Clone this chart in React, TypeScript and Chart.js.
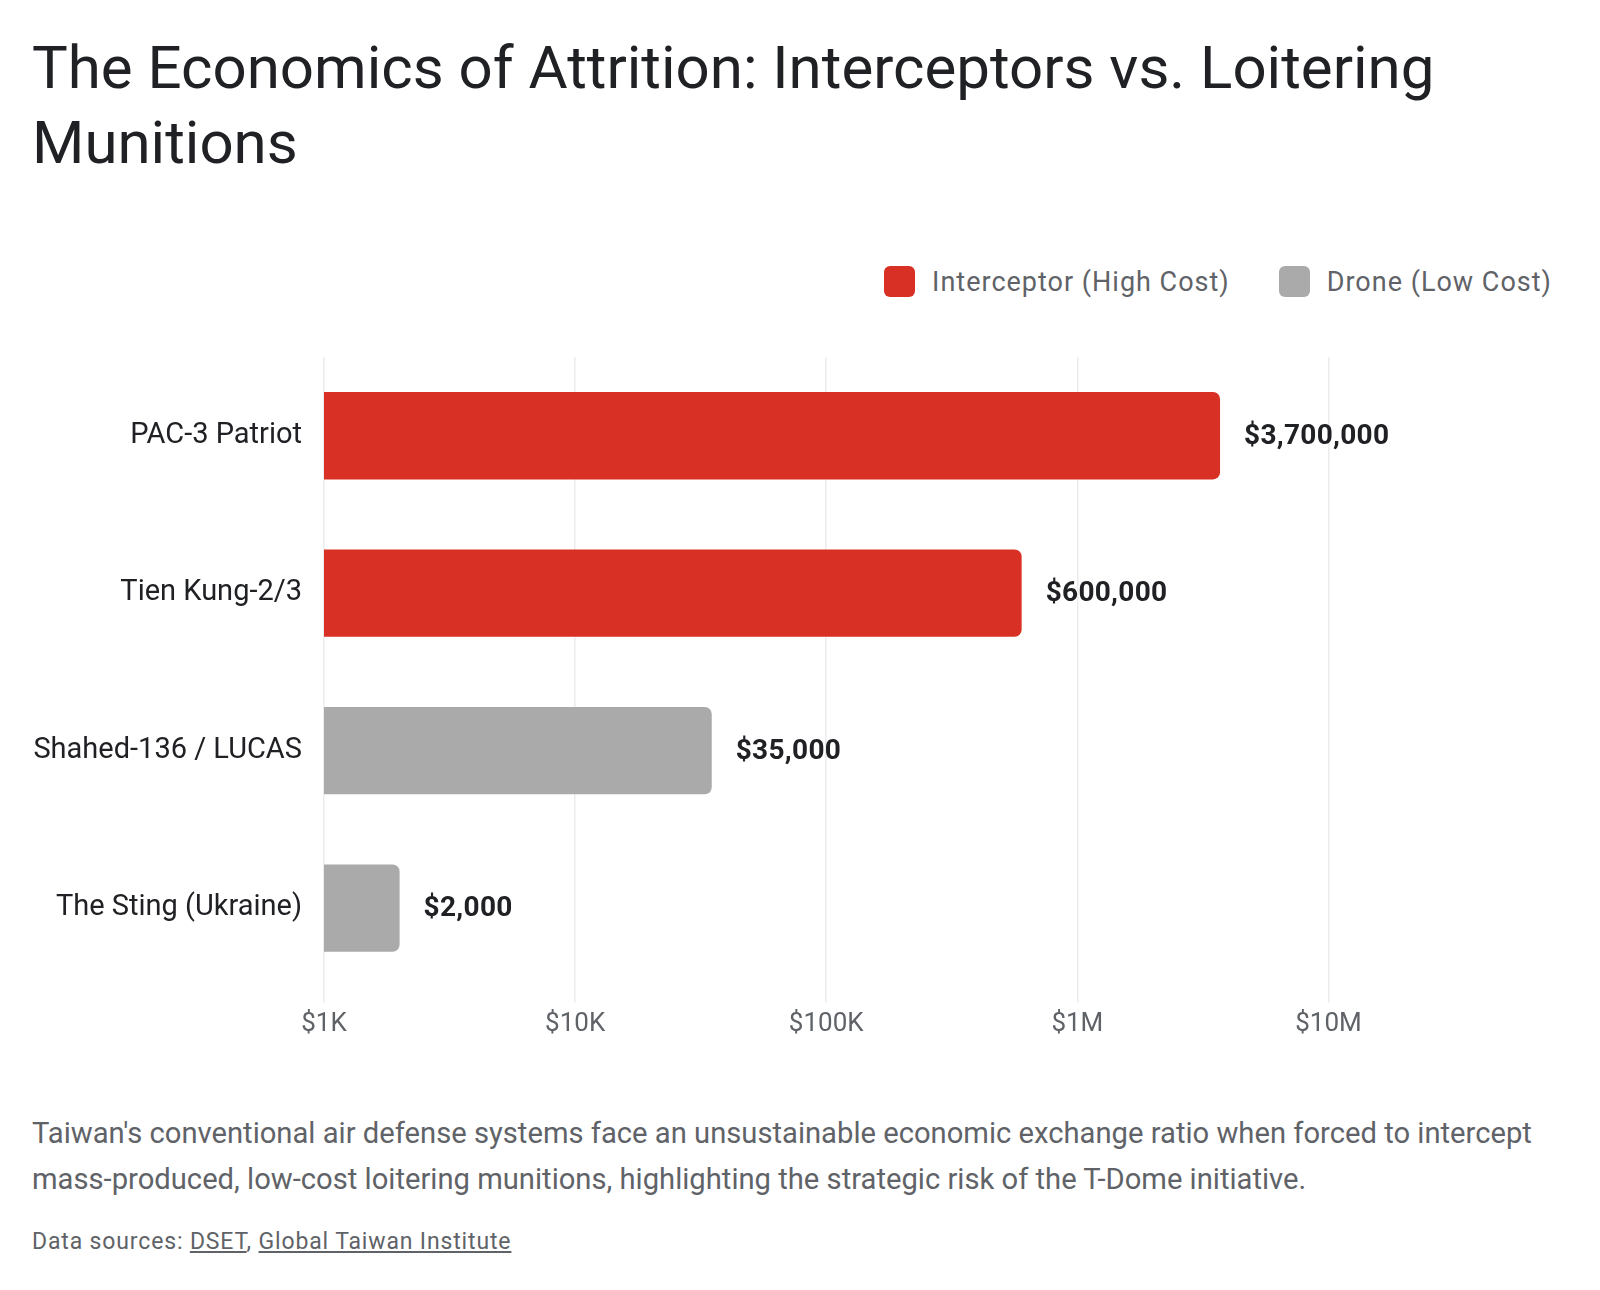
import React, { useEffect, useRef } from "react";
import { Chart, registerables } from "chart.js";

Chart.register(...registerables);

const categories = ["PAC-3 Patriot", "Tien Kung-2/3", "Shahed-136 / LUCAS", "The Sting (Ukraine)"];
const interceptorCosts = [3700000, 600000, null, null];
const droneCosts = [null, null, 35000, 2000];
const tickValues = [1000, 10000, 100000, 1000000, 10000000];
const tickLabels = ["$1K", "$10K", "$100K", "$1M", "$10M"];
const seriesNames = ["Interceptor (High Cost)", "Drone (Low Cost)"];
const seriesColors = ["#D93025", "#AAAAAA"];

const FONT = "Roboto, 'Noto Sans', sans-serif";

const valueLabelPlugin = {
  id: "valueLabels",
  afterDatasetsDraw(chart: any) {
    const ctx = chart.ctx;
    ctx.save();
    ctx.font = `bold 28px ${FONT}`;
    try {
      (ctx as any).letterSpacing = "0.3px";
    } catch (e) {}
    ctx.fillStyle = "#202124";
    ctx.textAlign = "left";
    ctx.textBaseline = "middle";
    chart.data.datasets.forEach((ds: any, di: number) => {
      const meta = chart.getDatasetMeta(di);
      meta.data.forEach((bar: any, i: number) => {
        const v = ds.data[i];
        if (v == null) return;
        ctx.fillText("$" + v.toLocaleString("en-US"), bar.x + 24, bar.y + 1);
      });
    });
    ctx.restore();
  },
};

export default function App() {
  const ref = useRef<HTMLCanvasElement>(null);
  useEffect(() => {
    const chart = new Chart(ref.current as HTMLCanvasElement, {
      type: "bar",
      data: {
        labels: categories,
        datasets: [
          {
            label: seriesNames[0],
            data: interceptorCosts as any,
            backgroundColor: seriesColors[0],
            borderRadius: 7,
            borderSkipped: "start",
            grouped: false,
            categoryPercentage: 1,
            barPercentage: 0.555,
          },
          {
            label: seriesNames[1],
            data: droneCosts as any,
            backgroundColor: seriesColors[1],
            borderRadius: 7,
            borderSkipped: "start",
            grouped: false,
            categoryPercentage: 1,
            barPercentage: 0.555,
          },
        ],
      },
      options: {
        indexAxis: "y",
        animation: false,
        responsive: false,
        maintainAspectRatio: false,
        layout: { padding: { top: 17, bottom: 4, left: 0, right: 64 } },
        plugins: {
          legend: { display: false },
          tooltip: { enabled: false },
        },
        scales: {
          x: {
            type: "logarithmic",
            min: 1000,
            max: 50000000,
            afterBuildTicks: (scale: any) => {
              scale.ticks = tickValues.map((v) => ({ value: v, major: true }));
            },
            ticks: {
              autoSkip: false,
              maxRotation: 0,
              padding: 6,
              color: "#5f6368",
              font: { family: FONT, size: 26 },
              callback: (v: any) => {
                const idx = tickValues.indexOf(Number(v));
                return idx >= 0 ? tickLabels[idx] : null;
              },
            },
            grid: { color: "#ececec", lineWidth: 1.5, drawTicks: true, tickLength: 16, tickColor: "#ececec" },
            border: { display: false },
          },
          y: {
            afterFit: (scale: any) => {
              scale.width = 292;
              scale.paddingTop = 0;
              scale.paddingBottom = 0;
            },
            ticks: {
              padding: 22,
              color: "#202124",
              font: { family: FONT, size: 29 },
            },
            grid: { display: false, drawTicks: false },
            border: { display: false },
          },
        },
      },
      plugins: [valueLabelPlugin],
    });
    return () => chart.destroy();
  }, []);

  return (
    <div
      style={{
        position: "absolute",
        left: 0,
        top: 0,
        width: 1600,
        height: 1290,
        background: "#ffffff",
        fontFamily: FONT,
        overflow: "hidden",
      }}
    >
      <div
        style={{
          position: "absolute",
          left: 32,
          top: 30,
          width: 1536,
          fontSize: 60,
          lineHeight: "75px",
          color: "#202124",
          fontWeight: 400,
        }}
      >
        The Economics of Attrition: Interceptors vs. Loitering Munitions
      </div>
      <div
        style={{
          position: "absolute",
          right: 48,
          top: 266,
          height: 31,
          display: "flex",
          alignItems: "center",
          fontSize: 27,
          letterSpacing: "1px",
          color: "#5f6368",
        }}
      >
        {seriesNames.map((n, i) => (
          <div key={n} style={{ display: "flex", alignItems: "center", marginLeft: i === 0 ? 0 : 49 }}>
            <span
              style={{
                display: "inline-block",
                width: 31,
                height: 31,
                borderRadius: 6,
                background: seriesColors[i],
                marginRight: 17,
              }}
            />
            <span>{n}</span>
          </div>
        ))}
      </div>
      <canvas
        ref={ref}
        width={1536}
        height={710}
        style={{ position: "absolute", left: 32, top: 340, width: 1536, height: 710 }}
      />
      <div
        style={{
          position: "absolute",
          left: 32,
          top: 1110,
          width: 1536,
          fontSize: 29.2,
          lineHeight: "46px",
          color: "#5f6368",
        }}
      >
        Taiwan's conventional air defense systems face an unsustainable economic exchange ratio when forced to intercept
        mass-produced, low-cost loitering munitions, highlighting the strategic risk of the T-Dome initiative.
      </div>
      <div
        style={{
          position: "absolute",
          left: 32,
          top: 1229,
          fontSize: 23,
          letterSpacing: "0.85px",
          lineHeight: "26px",
          color: "#5f6368",
        }}
      >
        Data sources: <span style={{ textDecoration: "underline" }}>DSET</span>,{" "}
        <span style={{ textDecoration: "underline" }}>Global Taiwan Institute</span>
      </div>
    </div>
  );
}
